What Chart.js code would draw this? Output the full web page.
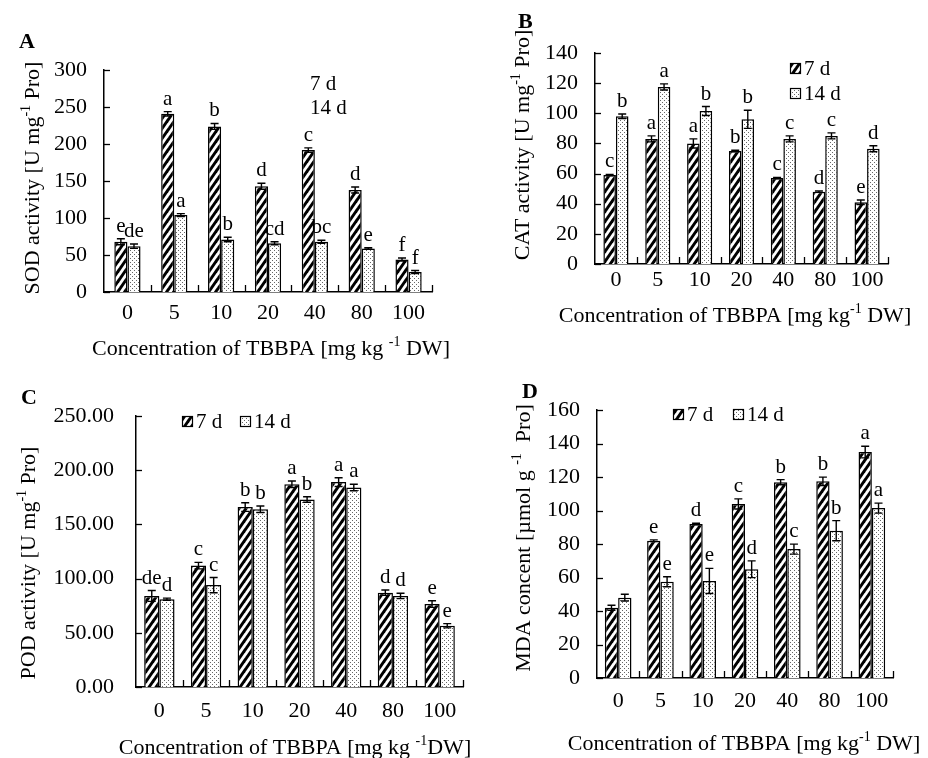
<!DOCTYPE html>
<html>
<head>
<meta charset="utf-8">
<script src="https://cdn.jsdelivr.net/npm/chart.js@4.4.0/dist/chart.umd.min.js"></script>
<style>
  body { margin: 0; background: #fff; width: 928px; height: 758px; position: relative; overflow: hidden;
         font-family: "Liberation Serif", "Times New Roman", serif; }
  .panel { position: absolute; }
  .tag { position: absolute; font-weight: bold; font-size: 22px; line-height: 1; color: #000; }
</style>
</head>
<body>
<div class="panel" style="left:0;top:40px"><canvas id="chartA" width="460" height="330"></canvas></div>
<div class="panel" style="left:480px;top:0"><canvas id="chartB" width="448" height="340"></canvas></div>
<div class="panel" style="left:0;top:380px"><canvas id="chartC" width="478" height="378"></canvas></div>
<div class="panel" style="left:480px;top:380px"><canvas id="chartD" width="448" height="378"></canvas></div>
<div class="tag" style="left:19px;top:30px">A</div>
<div class="tag" style="left:518px;top:10px">B</div>
<div class="tag" style="left:21px;top:386px">C</div>
<div class="tag" style="left:522px;top:380px">D</div>

<script>
const concentrations = ['0', '5', '10', '20', '40', '80', '100'];

// A - SOD
const sod7 = [68, 241, 224, 143, 192, 138, 44];
const sod14 = [62, 104, 71, 66, 68, 59, 27];
const sod7Err = [4, 3, 4, 4, 3, 4, 2];
const sod14Err = [3, 2, 3, 2, 2, 1, 2];
const sod7Letters = ['e', 'a', 'b', 'd', 'c', 'd', 'f'];
const sod14Letters = ['de', 'a', 'b', 'cd', 'bc', 'e', 'f'];

// B - CAT
const cat7 = [59, 83, 80, 75, 57, 48, 41];
const cat14 = [98, 117.5, 101.5, 96, 83, 85, 76.5];
const cat7Err = [0.5, 2, 3, 0.5, 0.5, 0.5, 1.5];
const cat14Err = [1.5, 2, 3, 6, 2, 2, 2];
const cat7Letters = ['c', 'a', 'a', 'b', 'c', 'd', 'e'];
const cat14Letters = ['b', 'a', 'b', 'b', 'c', 'c', 'd'];

// C - POD
const pod7 = [84, 112, 166, 187, 189, 87, 76.5];
const pod14 = [81, 94, 164, 173, 184, 84, 56.5];
const pod7Err = [5, 3, 4, 3, 4, 2.5, 3];
const pod14Err = [1, 7, 3, 2.5, 3, 2.5, 2];
const pod7Letters = ['de', 'c', 'b', 'a', 'a', 'd', 'e'];
const pod14Letters = ['d', 'c', 'b', 'b', 'a', 'd', 'e'];

// D - MDA
const mda7 = [42, 82, 92, 104, 117, 117.5, 135];
const mda14 = [48, 57.5, 58, 65, 77, 88, 101.5];
const mda7Err = [1.5, 0.5, 0.5, 3, 1.5, 2.5, 3.5];
const mda14Err = [2, 3, 7.5, 5, 3, 6, 3];
const mda7Letters = ['', 'e', 'd', 'c', 'b', 'b', 'a'];
const mda14Letters = ['', 'e', 'e', 'd', 'c', 'b', 'a'];

const seriesNames = ['7 d', '14 d'];

const FONT = '"Liberation Serif", "Times New Roman", serif';
const tickFont = { family: FONT, size: 22 };

// hatch fills
function stripes() {
  const w = 7, h = 10;
  const c = document.createElement('canvas');
  c.width = w; c.height = h;
  const g = c.getContext('2d');
  g.fillStyle = '#fff';
  g.fillRect(0, 0, w, h);
  g.strokeStyle = '#000';
  g.lineWidth = 3;
  for (const dx of [-w, 0, w]) {
    g.beginPath();
    g.moveTo(dx - w, 2 * h);
    g.lineTo(dx + 2 * w, -h);
    g.stroke();
  }
  return g.createPattern(c, 'repeat');
}
function dots() {
  const c = document.createElement('canvas');
  c.width = 4; c.height = 4;
  const g = c.getContext('2d');
  g.fillStyle = '#fff';
  g.fillRect(0, 0, 4, 4);
  g.fillStyle = '#666';
  g.fillRect(0, 0, 1, 1);
  g.fillRect(2, 2, 1, 1);
  return g.createPattern(c, 'repeat');
}
const fill7 = stripes();
const fill14 = dots();

// text with a superscript part: parts = [[text, isSup], ...]
function richText(ctx, parts, cx, cy, rotate) {
  const big = '22px ' + FONT, small = '14px ' + FONT;
  let total = 0;
  parts.forEach(([t, sup]) => { ctx.font = sup ? small : big; total += ctx.measureText(t).width; });
  ctx.save();
  ctx.translate(cx, cy);
  if (rotate) ctx.rotate(-Math.PI / 2);
  ctx.textAlign = 'left';
  ctx.textBaseline = 'middle';
  ctx.fillStyle = '#000';
  let x = -total / 2;
  parts.forEach(([t, sup]) => {
    ctx.font = sup ? small : big;
    ctx.fillText(t, x, sup ? -6 : 1);
    x += ctx.measureText(t).width;
  });
  ctx.restore();
}

const decor = {};

const decorPlugin = {
  id: 'decor',
  afterDatasetsDraw(chart) {
    const d = decor[chart.canvas.id];
    if (!d) return;
    const ctx = chart.ctx;
    const xs = chart.scales.x, ys = chart.scales.y;
    const area = chart.chartArea;
    ctx.save();
    ctx.strokeStyle = '#000';
    ctx.lineWidth = 1.3;

    // inward ticks
    ys.ticks.forEach((t, i) => {
      const py = Math.round(ys.getPixelForTick(i)) + 0.5;
      ctx.beginPath(); ctx.moveTo(area.left, py); ctx.lineTo(area.left + 6, py); ctx.stroke();
    });
    const n = xs.ticks.length;
    const cw = (area.right - area.left) / n;
    for (let i = 1; i <= n; i++) {
      const px = Math.round(area.left + i * cw) + 0.5;
      ctx.beginPath(); ctx.moveTo(px, area.bottom); ctx.lineTo(px, area.bottom - 7); ctx.stroke();
    }

    // error bars and letters
    ctx.font = '21px ' + FONT;
    ctx.fillStyle = '#000';
    ctx.textAlign = 'center';
    ctx.textBaseline = 'alphabetic';
    d.errors.forEach((errs, di) => {
      const meta = chart.getDatasetMeta(di);
      const vals = chart.data.datasets[di].data;
      meta.data.forEach((bar, j) => {
        const top = ys.getPixelForValue(vals[j] + errs[j]);
        const bot = ys.getPixelForValue(vals[j] - errs[j]);
        const cap = 4;
        ctx.lineWidth = 1.4;
        ctx.beginPath();
        ctx.moveTo(bar.x, top); ctx.lineTo(bar.x, bot);
        ctx.moveTo(bar.x - cap, top); ctx.lineTo(bar.x + cap, top);
        ctx.moveTo(bar.x - cap, bot); ctx.lineTo(bar.x + cap, bot);
        ctx.stroke();
        const txt = d.letters[di][j];
        if (txt) ctx.fillText(txt, bar.x, top - 7);
      });
    });

    // legend
    ctx.textAlign = 'left';
    ctx.textBaseline = 'middle';
    d.legend.forEach((item, k) => {
      if (item.swatch) {
        ctx.fillStyle = k === 0 ? fill7 : fill14;
        ctx.fillRect(item.x, item.y - 5, 10, 10);
        ctx.lineWidth = 1.2;
        ctx.strokeRect(item.x + 0.5, item.y - 4.5, 10, 10);
        ctx.fillStyle = '#000';
        ctx.fillText(seriesNames[k], item.x + 14, item.y + 1);
      } else {
        ctx.fillStyle = '#000';
        ctx.fillText(seriesNames[k], item.x, item.y + 1);
      }
    });
    ctx.restore();

    // axis titles
    richText(ctx, d.xTitle, d.xTitlePos[0], d.xTitlePos[1], false);
    richText(ctx, d.yTitle, d.yTitlePos[0], d.yTitlePos[1], true);
  }
};

function makeChart(id, s7, s14, cfg) {
  decor[id] = cfg;
  return new Chart(document.getElementById(id), {
    type: 'bar',
    data: {
      labels: concentrations,
      datasets: [
        { label: seriesNames[0], data: s7, backgroundColor: fill7, borderColor: '#000', borderWidth: 1.5 },
        { label: seriesNames[1], data: s14, backgroundColor: fill14, borderColor: '#000', borderWidth: 1.5 }
      ]
    },
    options: {
      responsive: false,
      animation: false,
      categoryPercentage: cfg.catPct,
      barPercentage: 1,
      layout: { padding: cfg.padding },
      plugins: { legend: { display: false }, tooltip: { enabled: false } },
      scales: {
        x: {
          grid: { display: false, drawTicks: false },
          border: { display: true, color: '#000', width: 1.5 },
          ticks: { color: '#000', font: tickFont, padding: cfg.xTickPad, maxRotation: 0 },
          afterFit(s) { s.height = cfg.xHeight; }
        },
        y: {
          min: 0,
          max: cfg.yMax,
          grid: { display: false, drawTicks: false },
          border: { display: true, color: '#000', width: 1.5 },
          ticks: {
            stepSize: cfg.yStep, color: '#000', font: tickFont, padding: cfg.yTickPad,
            callback: v => cfg.decimals ? v.toFixed(cfg.decimals) : v
          },
          afterFit(s) { s.width = cfg.yWidth; }
        }
      }
    },
    plugins: [decorPlugin]
  });
}

makeChart('chartA', sod7, sod14, {
  errors: [sod7Err, sod14Err], letters: [sod7Letters, sod14Letters],
  legend: [{ x: 310, y: 43 }, { x: 310, y: 67 }],
  yMax: 300, yStep: 50,
  xTitle: [['Concentration of TBBPA [mg kg ', false], ['-1', true], [' DW]', false]], xTitlePos: [271, 308],
  yTitle: [['SOD activity [U mg', false], ['-1', true], [' Pro]', false]], yTitlePos: [32, 138],
  catPct: 0.56, padding: { left: 20, top: 23, right: 28, bottom: 10 },
  yWidth: 84, xHeight: 68, xTickPad: 8, yTickPad: 17
});

makeChart('chartB', cat7, cat14, {
  errors: [cat7Err, cat14Err], letters: [cat7Letters, cat14Letters],
  legend: [{ x: 310, y: 68, swatch: true }, { x: 310, y: 93, swatch: true }],
  yMax: 140, yStep: 20,
  xTitle: [['Concentration of TBBPA [mg kg', false], ['-1', true], [' DW]', false]], xTitlePos: [255, 315],
  yTitle: [['CAT activity [U mg', false], ['-1', true], [' Pro]', false]], yTitlePos: [42, 145],
  catPct: 0.6, padding: { left: 30, top: 53, right: 40, bottom: 13 },
  yWidth: 85, xHeight: 63, xTickPad: 3, yTickPad: 17
});

makeChart('chartC', pod7, pod14, {
  errors: [pod7Err, pod14Err], letters: [pod7Letters, pod14Letters],
  legend: [{ x: 182, y: 41, swatch: true }, { x: 240, y: 41, swatch: true }],
  yMax: 250, yStep: 50, decimals: 2,
  xTitle: [['Concentration of TBBPA [mg kg ', false], ['-1', true], ['DW]', false]], xTitlePos: [295, 367],
  yTitle: [['POD activity [U mg', false], ['-1', true], [' Pro]', false]], yTitlePos: [28, 183],
  catPct: 0.65, padding: { left: 16, top: 36, right: 15, bottom: 1 },
  yWidth: 120, xHeight: 70, xTickPad: 11, yTickPad: 22
});

makeChart('chartD', mda7, mda14, {
  errors: [mda7Err, mda14Err], letters: [mda7Letters, mda14Letters],
  legend: [{ x: 193, y: 34, swatch: true }, { x: 253, y: 34, swatch: true }],
  yMax: 160, yStep: 20,
  xTitle: [['Concentration of TBBPA [mg kg', false], ['-1', true], [' DW]', false]], xTitlePos: [264, 363],
  yTitle: [['MDA concent [\u00B5mol g ', false], ['-1', true], ['  Pro]', false]], yTitlePos: [43, 158],
  catPct: 0.63, padding: { left: 31, top: 26, right: 35, bottom: 3 },
  yWidth: 86, xHeight: 77, xTickPad: 10, yTickPad: 17
});
</script>
</body>
</html>
